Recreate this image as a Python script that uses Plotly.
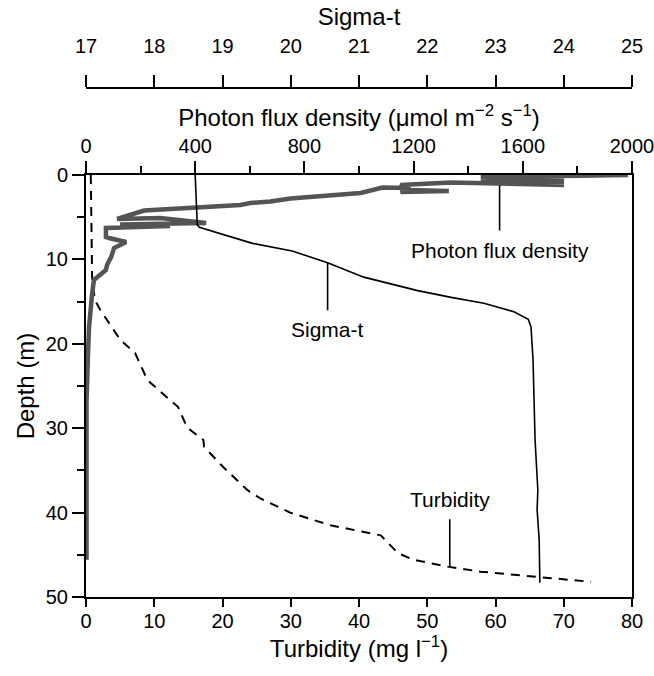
import plotly.graph_objects as go

# ---- data ----
turb_depth = [0, 12.1, 14.8, 16.0, 19.5, 21.1, 24.3, 27.5, 29.9, 31.4, 32.2, 34.6, 37.3, 38.3,
              40.0, 41.5, 42.7, 44.8, 45.6, 46.4, 47.0, 47.6, 48.2]
turb_val = [0.7, 0.9, 1.3, 2.1, 5.0, 7.2, 9.0, 13.5, 14.8, 17.2, 17.3, 20.1, 23.6, 25.5,
            29.9, 35.8, 43.2, 45.7, 48.0, 53.0, 57.8, 66.3, 74.0]

sigma_depth = [0, 5.9, 6.2, 8.1, 9.0, 10.4, 12.1, 12.7, 13.7, 14.5, 15.2, 16.2, 17.1, 18.0,
               21.9, 31.4, 37.3, 39.7, 43.2, 48.3]
sigma_val = [18.60, 18.63, 18.66, 19.44, 20.02, 20.54, 21.07, 21.36, 21.86, 22.35, 22.83,
             23.27, 23.48, 23.52, 23.55, 23.58, 23.62, 23.61, 23.64, 23.65]

pfd_depth = [0, 0.24, 0.47, 0.59, 0.83, 0.95, 1.18, 0.89, 1.18, 1.78, 1.90, 2.01, 1.54, 1.48,
             2.13, 2.78, 3.14, 3.32, 3.55, 4.03, 4.21, 5.21, 5.09, 5.69, 5.86, 6.04, 6.28,
             7.35, 7.46, 7.94, 8.65, 9.72, 10.66, 11.26, 11.85, 12.44, 14.2, 15.76, 18.1,
             21.6, 23.9, 26.7, 45.6]
pfd_val = [1985, 1446, 1751, 1446, 1751, 1483, 1751, 1336, 1152, 1171, 1329, 1152, 1189, 1086,
           1006, 749, 675, 602, 565, 308, 213, 114, 272, 440, 125, 308, 73,
           73, 84, 147, 103, 92, 77, 73, 48, 29, 22, 18, 11,
           7, 4, 2, 2]

turb_ticks = [0, 10, 20, 30, 40, 50, 60, 70, 80]
pfd_ticks = [0, 400, 800, 1200, 1600, 2000]
sigma_ticks = [17, 18, 19, 20, 21, 22, 23, 24, 25]
depth_ticks = [0, 10, 20, 30, 40, 50]

FONT = "Liberation Sans, Arial, Helvetica, sans-serif"
W, H = 654, 676
L, R, T, B = 86, 22, 88, 79
plot_top_px = 175
ydom_top = (H - B - plot_top_px) / (H - B - T)
TICK = 20
TITLE = 24
ANN = 21

fig = go.Figure()
fig.add_trace(go.Scatter(x=pfd_val, y=pfd_depth, mode="lines", xaxis="x2", yaxis="y",
                         line=dict(color="#545454", width=4.5), showlegend=False))
fig.add_trace(go.Scatter(x=sigma_val, y=sigma_depth, mode="lines", xaxis="x3", yaxis="y",
                         line=dict(color="black", width=1.6), showlegend=False))
fig.add_trace(go.Scatter(x=turb_val, y=turb_depth, mode="lines", xaxis="x", yaxis="y",
                         line=dict(color="black", width=2, dash="9px,7px"), showlegend=False))

axcommon = dict(showgrid=False, zeroline=False, showline=True, linecolor="black", linewidth=2,
                ticks="outside", tickcolor="black", tickwidth=2, automargin=False,
                tickfont=dict(family=FONT, size=TICK, color="black"))

fig.update_layout(
    width=W, height=H,
    margin=dict(l=L, r=R, t=T, b=B),
    plot_bgcolor="white", paper_bgcolor="white",
    font=dict(family=FONT, color="black"),
    xaxis=dict(**axcommon, range=[0, 80], tickvals=turb_ticks, ticklen=8,
               ticklabelstandoff=-3, ticklabeloverflow="allow",
               anchor="y", side="bottom",
               title=dict(text="Turbidity (mg l<sup>\u22121</sup>)", font=dict(size=TITLE), standoff=0)),
    xaxis2=dict(**axcommon, range=[0, 2000], tickvals=pfd_ticks, ticklen=12,
                ticklabeloverflow="allow",
                minor=dict(dtick=200, tick0=0, ticklen=7, tickwidth=2, tickcolor="black", ticks="outside"),
                overlaying="x", anchor="y", side="top",
                title=dict(text="Photon flux density (\u03bcmol m<sup>\u22122</sup> s<sup>\u22121</sup>)",
                           font=dict(size=TITLE), standoff=2)),
    xaxis3=dict(**axcommon, range=[17, 25], tickvals=sigma_ticks, ticklen=12,
                ticklabelstandoff=14, ticklabeloverflow="allow",
                overlaying="x", anchor="free", position=1, side="top",
                title=dict(text="Sigma-t", font=dict(size=TITLE), standoff=2)),
    yaxis=dict(**axcommon, range=[50, 0], tickvals=depth_ticks, ticklen=12, mirror=True,
               minor=dict(dtick=5, tick0=0, ticklen=7, tickwidth=2, tickcolor="black", ticks="outside"),
               domain=[0, ydom_top],
               title=dict(text="Depth (m)", font=dict(size=TITLE), standoff=4)),
)

# leader lines + labels (data coordinates on the turbidity / depth axes)
labels = [("Photon flux density", 60.6, 1.2, 6.75, 8.9),
          ("Sigma-t", 35.4, 10.4, 16.2, 18.3),
          ("Turbidity", 53.3, 46.4, 40.6, 38.4)]
for txt, lx, y0, y1, ty in labels:
    fig.add_annotation(x=lx, y=y0, ax=lx, ay=y1, xref="x", yref="y", axref="x", ayref="y",
                       text="", showarrow=True, arrowhead=0, arrowwidth=1.6, arrowcolor="black",
                       standoff=0, startstandoff=0)
    fig.add_annotation(x=lx, y=ty, xref="x", yref="y", text=txt, showarrow=False,
                       font=dict(family=FONT, size=ANN, color="black"))

fig.write_html("out.html")
